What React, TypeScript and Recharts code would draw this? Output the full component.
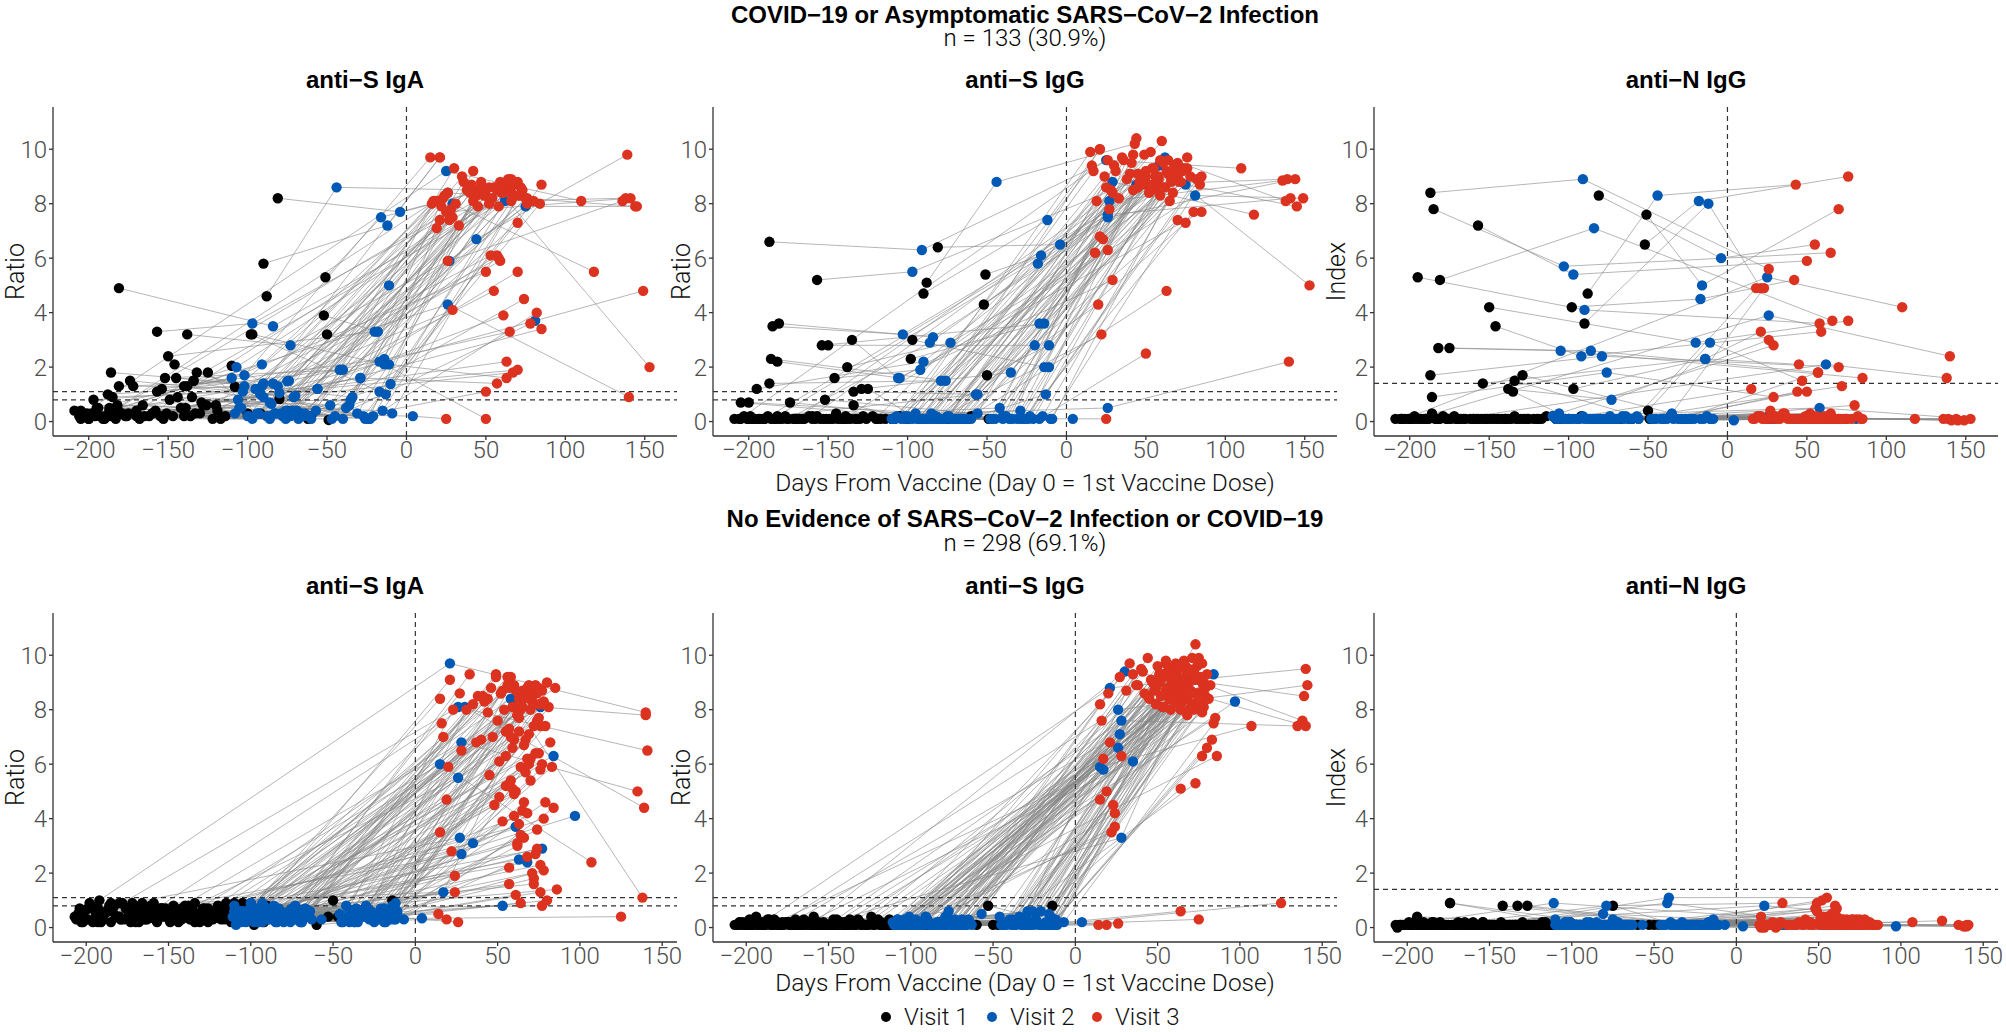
import React from "react";
import { ComposedChart, Line, Scatter, XAxis, YAxis, ReferenceLine } from "recharts";

type Trip = [number | null, number | null, number | null];

const visitLabels = ["Visit 1", "Visit 2", "Visit 3"];
const visitColors = ["#000000", "#005AB5", "#DC3220"];
const panelTitles = ["anti−S IgA", "anti−S IgG", "anti−N IgG"];
const yTitles = ["Ratio", "Ratio", "Index"];
const xTicks = [-200, -150, -100, -50, 0, 50, 100, 150];
const yTicks = [0, 2, 4, 6, 8, 10];
const cutoffs = [[0.8, 1.1], [0.8, 1.1], [1.4]];

// COVID-19 or asymptomatic infection group: days of visit 1..3 per subject
const topDays: Trip[] = [
  [-187, -91, 26], [-157, -97, 50], [-81, -4, 55], [-51, -16, 70], [-88, -44, 43],
  [-52, -18, 76], [-90, -12, 21], [-185, -103, 65], [-181, -84, 66], [-195, -90, 58],
  [-150, -20, 76], [-146, -92, 59], [-98, -17, 42], [-182, -105, 85], [-175, -86, 57],
  [-187, -79, 70], [-186, -76, 29], [-154, -14, 21], [-138, -73, 26], [-135, -106, 29],
  [-134, -57, 18], [-129, -35, 23], [-97, -14, 45], [-50, -11, 47], [-203, 25, 110],
  [-196, 26, 140], [-170, 62, 138], [-160, 58, 153], [-120, 29, 118], [-105, 75, 145],
  [-92, 44, 139], [-140, 81, 149], [-75, 27, 136], [-100, 4, 25], [-190, 26, 141],
  [-182, 26, 144], [-205, -102, 15], [-198, -91, 21], [-197, -95, 17], [-188, -84, 20],
  [-186, -81, 22], [-181, -74, 25], [-174, -71, 27], [-172, -56, 30], [-165, -48, 33],
  [-157, -42, 36], [-152, -40, 40], [-149, -36, 42], [-145, -34, 44], [-142, -29, 46],
  [-140, -24, 48], [-138, -110, 50], [-134, -107, 52], [-132, -102, 53], [-128, -99, 55],
  [-125, -94, 56], [-119, -90, 58], [-205, -87, 60], [-200, -85, 61], [-193, -83, 62],
  [-183, -80, 63], [-177, -77, 64], [-168, -75, 65], [-160, -72, 66], [-153, -70, 67],
  [-147, -68, 68], [-136, -66, 70], [-130, -62, 72], [-122, -60, 74], [-117, -65, 75],
  [-110, -47, 78], [-108, -27, 80], [-80, -23, 82], [-67, -10, 84], [-62, -13, 85],
  [-49, -17, 50], [-60, -11, 63], [-200, -56, 70], [-190, -40, 50], [-170, -29, 57],
  [-209, -108, 16], [-206, -104, 19], [-201, -100, 24], [-199, -97, 28], [-194, -93, 31],
  [-191, -88, 35], [-184, -86, 38], [-179, -82, 41], [-176, -78, 45], [-171, -76, 49],
  [-166, -73, 52], [-162, -69, 54], [-158, -64, 57], [-155, -45, 59], [-151, -38, 61],
  [-144, -31, 64], [-139, -26, 66], [-133, -21, 68], [-126, -15, 71], [-114, -9, 73],
];

const topIgA: Trip[] = [
  [0.4, 2.1, 8.4], [3.3, 3.6, 8.3], [8.2, 7.7, 8.6], [5.3, 7.5, 8.8], [4.6, 8.6, 8.5],
  [3.9, 3.3, 8.2], [5.8, 7.2, 9.7], [0.9, 1.1, 8.7], [4.9, 3.5, 8.4], [0.5, 0.9, 7.9],
  [2.4, 3.3, 8.0], [2.1, 1.0, 5.9], [3.2, 1.1, 8.1], [0.6, 0.5, 3.4], [0.3, 0.7, 6.1],
  [0.5, 0.3, 5.5], [0.2, 0.4, 7.5], [1.2, 2.3, 7.4], [3.2, 2.8, 5.9], [0.9, 0.8, 4.1],
  [1.5, 0.4, 8.1], [0.7, 0.8, 8.2], [3.2, 2.1, 8.5], [3.2, 5.0, 8.8], [0.3, 9.2, 8.1],
  [0.2, 4.3, 0.9], [0.4, 8.1, 8.2], [0.3, 8.5, 2.0], [0.6, 8.0, 5.5], [0.5, 7.9, 7.9],
  [0.3, 6.7, 9.8], [0.2, 3.7, 4.8], [0.4, 5.9, 8.1], [0.3, 0.2, 0.1], [0.2, 7.7, 8.2],
  [0.5, 8.4, 7.9], [0.4, 1.7, 9.7], [0.3, 1.3, 9.7], [0.8, 1.2, 8.1], [1.0, 1.4, 8.1],
  [1.8, 1.3, 7.9], [1.3, 1.5, 7.7], [1.5, 0.9, 7.4], [1.3, 1.2, 9.3], [0.2, 0.6, 7.2],
  [1.1, 1.9, 8.8], [1.6, 1.9, 8.4], [0.8, 0.6, 9.2], [1.6, 0.9, 8.3], [0.5, 1.6, 8.4],
  [1.3, 0.1, 8.6], [1.3, 1.6, 5.5], [1.5, 2.0, 8.0], [1.8, 1.3, 6.1], [0.6, 0.2, 4.8],
  [1.8, 0.3, 8.6], [0.4, 1.4, 6.0], [0.1, 0.2, 8.4], [0.1, 0.65, 3.9], [0.2, 0.3, 8.7],
  [0.1, 1.05, 2.2], [0.2, 0.2, 8.5], [0.1, 1.48, 3.3], [0.3, 0.4, 8.9], [0.1, 0.95, 1.8],
  [0.2, 0.1, 8.3], [0.2, 0.3, 7.3], [0.3, 0.2, 8.6], [0.1, 0.1, 4.5], [0.1, 0.2, 8.2],
  [2.05, 0.1, 3.6], [1.28, 0.2, 8.1], [0.83, 0.1, 4.0], [0.3, 1.38, 8.0], [0.1, 1.0, 8.7],
  [0.06, 2.2, 0.1], [0.2, 2.1, 1.6], [0.1, 1.2, 1.9], [0.1, 0.1, 1.1], [0.2, 1.6, 1.4],
  [0.4, 0.3, 8.0], [0.2, 0.5, 7.1], [0.3, 0.2, 8.3], [0.2, 0.1, 7.8], [0.5, 0.3, 8.0],
  [0.1, 0.2, 9.0], [0.4, 0.1, 8.5], [0.3, 0.3, 8.7], [0.2, 0.2, 7.9], [0.3, 0.1, 8.3],
  [0.6, 0.2, 8.6], [0.2, 0.4, 8.2], [0.4, 0.3, 8.5], [0.2, 0.2, 8.8], [0.3, 0.5, 8.4],
  [0.9, 0.3, 8.9], [0.5, 0.1, 8.1], [0.3, 0.2, 8.7], [0.6, 0.4, 8.3], [0.2, 0.3, 8.5],
];

const topIgG: Trip[] = [
  [6.6, 6.3, 9.6], [5.2, 5.5, 9.0], [6.4, 6.5, 9.3], [5.4, 6.1, 9.5], [5.1, 8.8, 10.2],
  [4.3, 5.8, 9.7], [4.7, 7.4, 10.0], [3.5, 3.2, 9.1], [3.6, 3.1, 8.8], [1.2, 2.2, 9.0],
  [2.8, 2.8, 9.3], [1.6, 1.9, 8.3], [2.3, 3.6, 8.5], [2.2, 1.6, 7.7], [0.1, 2.9, 8.8],
  [1.4, 1.5, 9.0], [2.3, 1.5, 8.4], [2.8, 3.6, 6.8], [2.0, 2.9, 6.3], [3.0, 1.6, 5.2],
  [1.1, 1.0, 6.2], [1.2, 1.8, 6.7], [3.0, 2.0, 8.6], [1.7, 2.8, 8.9], [0.2, 9.6, 9.3],
  [0.1, 0.5, 2.2], [0.1, 9.7, 8.1], [0.2, 9.4, 5.0], [0.1, 8.8, 7.6], [0.2, 8.7, 7.9],
  [0.1, 8.7, 8.9], [0.1, 8.3, 8.2], [0.1, 8.1, 8.85], [0.1, 0.1, 0.1], [0.1, 7.6, 8.2],
  [0.2, 7.5, 8.9], [0.7, 0.2, 9.9], [0.1, 0.1, 10.0], [0.1, 0.3, 9.2], [0.2, 0.1, 4.3],
  [0.1, 0.1, 3.2], [0.1, 0.2, 8.6], [0.7, 0.1, 7.8], [0.1, 0.3, 9.4], [0.1, 0.1, 8.2],
  [0.2, 0.5, 9.6], [0.8, 0.2, 9.1], [0.1, 0.1, 9.8], [0.3, 0.1, 10.4], [0.1, 0.4, 8.8],
  [0.1, 0.1, 9.0], [0.1, 0.1, 9.2], [0.6, 0.2, 8.4], [0.1, 0.1, 9.9], [0.2, 0.1, 8.7],
  [1.2, 0.1, 9.0], [0.1, 0.1, 8.9], [0.1, 0.1, 10.3], [0.7, 0.3, 9.5], [0.1, 0.1, 8.6],
  [0.1, 0.1, 9.2], [0.2, 0.1, 9.6], [0.1, 0.2, 8.1], [0.1, 0.1, 9.0], [0.1, 0.1, 8.4],
  [0.1, 0.1, 9.4], [0.1, 0.1, 9.1], [0.1, 0.1, 8.8], [0.2, 0.1, 9.3], [0.1, 0.1, 7.3],
  [0.1, 0.1, 9.0], [0.1, 0.1, 7.7], [0.1, 0.2, 8.9], [0.1, 0.1, 8.7], [0.1, 1.0, 9.0],
  [0.1, 0.1, 2.5], [0.2, 2.0, 4.8], [0.1, 1.0, 7.4], [0.1, 0.1, 8.7], [0.1, 0.1, 8.5],
  [0.1, 0.1, 9.4], [0.1, 0.1, 8.1], [0.1, 0.2, 9.0], [0.2, 0.1, 8.5], [0.1, 0.1, 9.2],
  [0.1, 0.1, 9.7], [0.1, 0.1, 8.9], [0.1, 0.2, 9.5], [0.1, 0.1, 9.1], [0.1, 0.1, 9.8],
  [0.1, 0.1, 8.7], [0.2, 0.1, 9.3], [0.1, 0.1, 9.0], [0.1, 0.1, 9.6], [0.1, 0.2, 8.6],
  [0.1, 0.1, 9.1], [0.2, 0.1, 8.9], [0.1, 0.1, 9.4], [0.1, 0.2, 8.8], [0.1, 0.1, 9.2],
];

const topN: Trip[] = [
  [8.4, 8.9, 5.6], [7.2, 5.4, 5.9], [8.3, 6.0, 6.5], [7.6, 5.0, 7.8], [4.7, 8.3, 8.7],
  [6.5, 8.1, 9.0], [3.6, 8.0, 4.9], [7.8, 5.7, 6.2], [5.2, 7.1, 3.7], [5.3, 4.1, 3.6],
  [4.2, 2.9, 3.7], [3.5, 2.4, 3.3], [4.2, 4.5, 5.2], [2.7, 2.6, 1.6], [2.7, 2.6, 1.8],
  [1.7, 2.4, 2.0], [0.9, 1.8, 0.9], [1.4, 2.3, 3.3], [1.2, 0.8, 3.0], [1.1, 0.3, 2.8],
  [1.5, 0.2, 4.9], [1.7, 0.3, 4.9], [1.2, 2.3, 2.1], [0.4, 2.9, 1.5], [0.1, 5.3, 4.2],
  [0.1, 3.9, 2.4], [0.1, 2.1, 1.6], [0.1, 0.5, 0.1], [0.1, 0.1, 0.1], [0.1, 0.1, 0.05],
  [0.2, 0.1, 0.1], [0.1, 0.1, 0.05], [0.1, 0.1, 0.1], [0.1, 0.05, 0.1], [0.1, 0.2, 0.05],
  [0.1, 0.1, 0.1], [0.1, 0.1, 1.2], [0.1, 0.2, 0.2], [0.2, 0.1, 0.1], [0.1, 0.1, 0.2],
  [0.3, 0.1, 0.1], [0.1, 0.2, 0.1], [0.1, 0.1, 0.4], [0.2, 0.1, 0.2], [0.1, 0.1, 0.1],
  [0.1, 0.1, 0.3], [0.1, 0.1, 0.1], [0.1, 0.2, 0.1], [0.1, 0.1, 1.1], [0.1, 0.1, 0.1],
  [0.1, 0.1, 0.1], [0.1, 0.2, 0.1], [0.2, 0.1, 0.3], [0.1, 0.1, 0.1], [0.1, 0.1, 0.1],
  [0.1, 0.1, 0.2], [0.1, 0.1, 0.1], [0.1, 0.1, 0.1], [0.1, 0.1, 0.2], [0.1, 0.1, 0.1],
  [0.1, 0.1, 0.1], [0.1, 0.1, 0.1], [0.1, 0.1, 0.3], [0.1, 0.1, 0.1], [0.1, 0.1, 0.1],
  [0.1, 0.1, 0.1], [0.1, 0.2, 0.1], [0.1, 0.1, 1.3], [0.1, 0.1, 0.1], [0.1, 0.1, 0.1],
  [0.2, 0.1, 0.1], [0.1, 0.1, 0.6], [0.1, 0.1, 0.2], [0.1, 0.1, 0.1], [0.1, 0.2, 0.1],
  [0.1, 0.1, 0.1], [0.1, 0.1, 0.1], [0.1, 0.1, 0.1], [0.1, 0.1, 1.1], [0.1, 0.1, 1.8],
  [0.1, 0.1, 0.1], [0.1, 0.1, 0.2], [0.1, 0.1, 0.1], [0.1, 0.1, 0.1], [0.1, 0.1, 0.1],
  [0.1, 0.1, 0.3], [0.1, 0.1, 0.1], [0.2, 0.1, 0.1], [0.1, 0.1, 0.1], [0.1, 0.1, 0.2],
  [0.1, 0.1, 0.1], [0.1, 0.1, 0.1], [0.1, 0.2, 0.1], [0.1, 0.1, 0.1], [0.1, 0.1, 0.1],
  [0.1, 0.1, 0.2], [0.1, 0.1, 0.1], [0.1, 0.1, 0.1], [0.1, 0.1, 0.1], [0.2, 0.1, 0.1],
];

// No evidence of infection group
const bottomDays: Trip[] = [
  [-192, 21, 140], [-178, 26, 141], [-160, 30, 139], [-150, 28, 135], [-140, 15, 107],
  [-200, 4, 125], [-130, 58, 138], [-120, 76, 140], [-105, 84, null], [-95, 97, null],
  [-185, 17, 60], [-172, 27, 63], [-165, 35, 70], [-155, 28, 65], [-148, 26, 72],
  [-135, 61, null], [-128, 63, null], [-116, 68, null], [-112, 53, null], [-100, 77, null],
  [-206, -108, 15], [-203, -105, 16], [-201, -103, 17], [-198, -100, 19], [-196, -97, 20],
  [-194, -95, 15], [-193, -93, 21], [-190, -91, 22], [-189, -89, 24], [-186, -88, 24],
  [-185, -86, 14], [-184, -84, 19], [-181, -83, 26], [-180, -81, 27], [-177, -79, 28],
  [-176, -78, 33], [-174, -76, 35], [-173, -75, 38], [-170, -73, 40], [-169, -72, 42],
  [-167, -71, 44], [-164, -70, 45], [-163, -69, 46], [-160, -67, 48], [-159, -66, 49],
  [-157, -64, 50], [-154, -63, 51], [-153, -46, 52], [-151, -44, 53], [-148, -42, 54],
  [-147, -41, 55], [-145, -39, 56], [-144, -38, 57], [-142, -36, 57], [-141, -35, 58],
  [-138, -33, 59], [-137, -31, 60], [-134, -30, 60], [-133, -28, 61], [-131, -27, 62],
  [-128, -25, 62], [-127, -24, 63], [-124, -22, 64], [-123, -21, 64], [-120, -20, 65],
  [-119, -18, 66], [-116, -17, 67], [-115, -16, 68], [-113, -15, 68], [-110, -14, 69],
  [-109, -13, 70], [-106, -12, 71], [-105, -11, 72], [-103, -40, 73], [-101, -32, 73],
  [-98, -26, 74], [-97, -19, 75], [-92, -23, 76], [-90, -15, 77], [-75, -37, 78],
  [-60, -21, 79], [-53, -13, 80], [-50, -17, 81], [-47, -12, 83], [-14, -7, 84],
  [-205, -110, 85], [-202, -111, 86], [-196, -109, 82], [-190, -106, 80], [-183, -104, 78],
  [-179, -101, 76], [-174, -98, 74], [-170, -96, 71], [-166, -94, 69], [-162, -92, 67],
  [-158, -90, 66], [-154, -87, 63], [-150, -85, 61], [-145, -82, 59], [-142, -80, 57],
  [-138, -77, 55], [-134, -74, 53], [-130, -72, 51], [-126, -70, 49], [-122, -68, 47],
  [-118, -100, 44], [-114, -78, 41], [-110, -57, 37], [-108, -29, 31], [-106, -45, 23],
  [-207, -109, 52], [-204, -107, 55], [-199, -106, 58], [-197, -104, 60], [-194, -102, 62],
  [-191, -99, 64], [-188, -97, 66], [-185, -95, 68], [-182, -93, 70], [-179, -91, 72],
  [-175, -89, 74], [-172, -86, 75], [-168, -84, 76], [-165, -82, 77], [-161, -80, 78],
  [-158, -77, 56], [-156, -75, 58], [-152, -73, 60], [-149, -71, 61], [-146, -69, 63],
  [-143, -67, 65], [-140, -65, 67], [-136, -43, 69], [-132, -40, 71], [-129, -37, 72],
  [-126, -34, 74], [-121, -30, 75], [-118, -27, 76], [-115, -24, 77], [-112, -21, 79],
  [-204, -19, 57], [-199, -16, 59], [-193, -13, 62], [-187, -11, 64], [-180, -110, 66],
  [-171, -108, 68], [-163, -106, 70], [-155, -103, 73], [-147, -101, 75], [-139, -98, 77],
];

const bottomIgA: Trip[] = [
  [1.0, 9.7, 7.9], [0.9, 8.1, 6.5], [0.6, 8.1, 4.4], [0.5, 6.8, 5.0], [0.4, 6.0, 2.4],
  [0.3, 0.34, 0.4], [0.4, 8.4, 1.1], [0.7, 8.1, 7.8], [0.6, 6.3, null], [0.5, 4.1, null],
  [0.8, 1.3, 6.9], [0.9, 3.3, 7.2], [0.3, 3.1, 6.2], [0.7, 2.7, 4.3], [0.4, 5.5, 8.7],
  [0.6, 3.7, null], [0.3, 2.5, null], [0.5, 2.4, null], [0.2, 0.8, null], [0.9, 2.9, null],
  [0.3, 0.2, 8.4], [0.2, 0.5, 7.5], [0.6, 0.3, 7.0], [0.9, 0.8, 4.7], [0.2, 0.6, 5.9],
  [0.4, 0.2, 3.5], [0.7, 0.9, 9.1], [0.3, 0.5, 2.8], [0.5, 0.3, 1.9], [0.8, 0.6, 1.3],
  [0.2, 0.4, 0.5], [0.6, 0.2, 0.3], [0.4, 0.7, 0.2], [0.9, 0.3, 8.6], [0.3, 0.5, 6.5],
  [0.7, 0.4, 9.3], [0.5, 0.2, 8.2], [0.2, 0.6, 8.5], [0.6, 0.8, 6.9], [0.4, 0.4, 8.3],
  [0.8, 0.3, 7.9], [0.3, 0.5, 5.6], [0.6, 0.2, 8.8], [0.5, 0.7, 4.5], [0.9, 0.4, 9.3],
  [0.2, 0.6, 7.6], [0.7, 0.3, 6.1], [0.4, 0.5, 8.6], [0.6, 0.2, 3.9], [0.3, 0.8, 8.0],
  [0.8, 0.4, 5.2], [0.5, 0.6, 8.9], [0.2, 0.3, 2.2], [0.7, 0.7, 7.3], [0.4, 0.2, 9.2],
  [0.6, 0.5, 6.6], [0.3, 0.4, 4.1], [0.9, 0.8, 8.1], [0.5, 0.3, 1.2], [0.2, 0.6, 7.8],
  [0.7, 0.2, 3.0], [0.4, 0.5, 8.4], [0.6, 0.4, 0.9], [0.3, 0.7, 5.9], [0.8, 0.3, 8.7],
  [0.5, 0.2, 4.6], [0.3, 0.6, 6.9], [0.6, 0.5, 8.8], [0.4, 0.3, 2.6], [0.7, 0.8, 7.1],
  [0.2, 0.4, 5.4], [0.5, 0.3, 8.5], [0.9, 0.6, 1.8], [0.3, 0.2, 6.4], [0.6, 0.5, 8.9],
  [0.1, 0.4, 3.6], [0.4, 0.7, 8.2], [0.2, 0.3, 5.8], [0.8, 0.5, 8.7], [0.5, 0.2, 2.1],
  [0.1, 0.3, 7.4], [0.4, 0.4, 1.0], [1.0, 0.3, 8.1], [0.4, 0.9, 5.9], [1.0, 0.3, 4.4],
  [0.5, 0.6, 8.8], [0.2, 0.4, 1.4], [0.7, 0.1, 6.8], [0.4, 0.6, 9.0], [0.8, 0.3, 4.0],
  [0.3, 0.5, 7.4], [0.6, 0.2, 2.9], [0.2, 0.7, 8.3], [0.9, 0.4, 6.0], [0.5, 0.8, 8.6],
  [0.3, 0.3, 3.3], [0.7, 0.5, 7.7], [0.4, 0.2, 5.0], [0.6, 0.6, 8.1], [0.3, 0.4, 1.6],
  [0.8, 0.6, 6.3], [0.2, 0.3, 8.7], [0.5, 0.7, 4.8], [0.7, 0.2, 9.2], [0.4, 0.5, 7.0],
  [0.3, 0.9, 8.4], [0.6, 0.4, 8.5], [0.9, 0.3, 6.8], [0.2, 0.6, 8.0], [0.5, 0.2, 8.0],
  [0.4, 0.3, 8.6], [0.7, 0.5, 7.2], [0.3, 0.2, 5.4], [0.8, 0.6, 8.9], [0.5, 0.4, 3.1],
  [0.2, 0.7, 8.0], [0.6, 0.3, 6.7], [0.9, 0.5, 4.2], [0.4, 0.2, 8.5], [0.3, 0.6, 1.6],
  [0.7, 0.4, 7.6], [0.5, 0.8, 8.8], [0.2, 0.3, 2.3], [0.6, 0.5, 6.0], [0.8, 0.2, 8.3],
  [0.3, 0.4, 9.2], [0.5, 0.7, 7.0], [0.7, 0.3, 4.9], [0.2, 0.5, 8.7], [0.6, 0.2, 3.8],
  [0.4, 0.6, 8.1], [0.8, 0.4, 5.7], [0.3, 0.3, 8.9], [0.5, 0.6, 2.0], [0.7, 0.2, 7.4],
  [0.2, 0.5, 8.6], [0.6, 0.7, 6.4], [0.4, 0.3, 1.3], [0.9, 0.5, 8.2], [0.3, 0.4, 4.6],
  [0.5, 0.2, 8.8], [0.7, 0.6, 5.1], [0.2, 0.3, 7.8], [0.6, 0.5, 3.4], [0.4, 0.8, 8.4],
  [0.8, 0.3, 6.2], [0.3, 0.6, 8.0], [0.5, 0.2, 2.7], [0.7, 0.4, 7.7], [0.4, 0.7, 0.8],
];

const bottomIgG: Trip[] = [
  [0.1, 8.8, 9.5], [0.2, 8.0, 8.9], [0.1, 9.4, 8.5], [0.1, 7.6, 7.4], [0.2, 5.9, 7.4],
  [0.1, 0.2, 0.9], [0.1, 9.4, 7.6], [0.3, 8.5, 7.4], [0.1, 9.3, null], [0.2, 8.3, null],
  [0.1, 5.8, 8.6], [0.2, 7.1, 9.0], [0.1, 6.1, 8.7], [0.1, 3.3, 8.3], [0.1, 6.6, 9.1],
  [0.2, 8.3, null], [0.1, 8.3, null], [0.1, 8.9, null], [0.1, 8.1, null], [0.2, 8.5, null],
  [0.1, 0.3, 8.2], [0.1, 0.2, 7.6], [0.1, 0.1, 6.2], [0.3, 0.1, 5.0], [0.1, 0.3, 8.6],
  [0.4, 0.1, 4.7], [0.1, 0.1, 6.8], [0.2, 0.4, 3.5], [0.1, 0.2, 3.7], [0.3, 0.1, 4.2],
  [0.1, 0.1, 0.1], [0.1, 0.1, 0.1], [0.2, 0.2, 0.15], [0.1, 0.1, 9.2], [0.1, 0.4, 6.3],
  [0.2, 0.1, 9.7], [0.1, 0.2, 9.3], [0.1, 0.1, 8.9], [0.3, 0.3, 9.5], [0.1, 0.1, 8.6],
  [0.1, 0.2, 9.9], [0.2, 0.1, 8.4], [0.1, 0.3, 9.1], [0.1, 0.1, 8.7], [0.4, 0.1, 8.2],
  [0.1, 0.2, 9.6], [0.1, 0.1, 9.0], [0.2, 0.4, 8.5], [0.1, 0.1, 9.3], [0.1, 0.1, 8.1],
  [0.3, 0.2, 9.8], [0.1, 0.1, 8.8], [0.1, 0.3, 8.4], [0.2, 0.1, 9.4], [0.1, 0.2, 8.0],
  [0.1, 0.1, 9.1], [0.3, 0.1, 8.7], [0.1, 0.4, 9.5], [0.1, 0.1, 8.3], [0.2, 0.2, 8.9],
  [0.1, 0.1, 9.2], [0.1, 0.3, 8.6], [0.4, 0.1, 0.6], [0.1, 0.6, 5.1], [0.2, 0.1, 9.0],
  [0.1, 0.2, 8.8], [0.1, 0.1, 9.6], [0.1, 0.1, 7.8], [0.3, 0.4, 8.4], [0.1, 0.2, 9.1],
  [0.1, 0.1, 8.7], [0.2, 0.1, 8.2], [0.1, 0.1, 9.4], [0.1, 0.3, 5.3], [0.1, 0.1, 10.4],
  [0.1, 0.6, 8.6], [0.1, 0.1, 0.3], [0.1, 0.2, 8.0], [0.1, 0.1, 6.3], [0.2, 0.1, 9.0],
  [0.1, 0.1, 8.5], [0.8, 0.2, 6.6], [0.1, 0.1, 8.4], [0.1, 0.3, 6.9], [0.8, 0.2, 7.5],
  [0.1, 0.1, 7.7], [0.2, 0.2, 6.3], [0.1, 0.1, 8.9], [0.1, 0.2, 9.3], [0.3, 0.1, 8.1],
  [0.1, 0.4, 9.1], [0.2, 0.1, 8.6], [0.1, 0.1, 9.9], [0.1, 0.2, 8.0], [0.2, 0.1, 9.2],
  [0.1, 0.3, 8.8], [0.1, 0.1, 9.5], [0.1, 0.1, 8.3], [0.3, 0.2, 9.0], [0.1, 0.1, 8.7],
  [0.1, 0.6, 9.7], [0.2, 0.1, 8.1], [0.1, 0.2, 9.3], [0.1, 0.1, 8.8], [0.1, 0.1, 9.0],
  [0.2, 0.3, 8.5], [0.1, 0.1, 9.4], [0.1, 0.5, 8.9], [0.1, 0.6, 8.7], [0.1, 0.1, 4.5],
  [0.1, 0.1, 9.1], [0.2, 0.2, 8.7], [0.1, 0.1, 9.5], [0.1, 0.3, 8.3], [0.3, 0.1, 9.0],
  [0.1, 0.1, 8.6], [0.1, 0.2, 9.8], [0.2, 0.1, 8.9], [0.1, 0.1, 9.3], [0.1, 0.4, 8.0],
  [0.2, 0.1, 9.6], [0.1, 0.1, 8.4], [0.1, 0.2, 9.2], [0.3, 0.1, 7.9], [0.1, 0.1, 8.8],
  [0.1, 0.3, 9.4], [0.2, 0.1, 8.5], [0.1, 0.1, 9.1], [0.1, 0.2, 9.7], [0.1, 0.1, 8.2],
  [0.2, 0.1, 9.0], [0.1, 0.3, 8.7], [0.1, 0.1, 9.5], [0.3, 0.2, 8.1], [0.1, 0.1, 9.3],
  [0.1, 0.4, 8.6], [0.2, 0.1, 9.9], [0.1, 0.1, 8.3], [0.1, 0.2, 9.0], [0.1, 0.1, 8.8],
  [0.2, 0.1, 9.2], [0.1, 0.5, 8.5], [0.1, 0.1, 9.6], [0.3, 0.2, 8.0], [0.1, 0.1, 8.9],
  [0.1, 0.3, 9.4], [0.2, 0.1, 8.6], [0.1, 0.1, 9.1], [0.1, 0.2, 8.4], [0.1, 0.1, 9.7],
];

const bottomN: Trip[] = [
  [0.1, 0.1, 0.05], [0.1, 0.1, 0.1], [0.2, 0.1, 0.05], [0.1, 0.1, 0.1], [0.1, 0.1, 0.2],
  [0.1, 0.05, 0.25], [0.1, 0.1, 0.05], [0.1, 0.1, 0.1], [0.1, 0.1, null], [0.1, 0.05, null],
  [0.1, 0.8, 0.6], [0.1, 0.1, 0.2], [0.1, 0.1, 0.1], [0.1, 0.1, 0.3], [0.1, 0.1, 0.1],
  [0.1, 0.1, null], [0.1, 0.1, null], [0.1, 0.1, null], [0.1, 0.1, null], [0.1, 0.2, null],
  [0.0, 0.1, 0.4], [0.1, 0.1, 0.1], [0.1, 0.2, 0.0], [0.1, 0.1, 0.1], [0.2, 0.1, 0.1],
  [0.4, 0.1, 0.0], [0.1, 0.1, 0.1], [0.1, 0.1, 0.2], [0.1, 0.2, 0.1], [0.1, 0.1, 0.0],
  [0.1, 0.1, 0.1], [0.2, 0.1, 0.1], [0.1, 0.1, 0.1], [0.1, 0.5, 0.2], [0.1, 0.8, 0.9],
  [0.1, 0.1, 0.1], [0.9, 0.1, 0.1], [0.1, 0.1, 0.2], [0.1, 0.1, 0.1], [0.2, 0.2, 0.3],
  [0.1, 0.1, 0.1], [0.1, 0.1, 0.2], [0.1, 0.1, 0.1], [0.1, 0.1, 0.7], [0.1, 0.1, 0.9],
  [0.1, 0.1, 0.1], [0.2, 0.1, 0.3], [0.1, 0.1, 1.0], [0.1, 0.1, 0.4], [0.1, 0.9, 0.1],
  [0.1, 1.1, 1.1], [0.1, 0.1, 0.2], [0.1, 0.1, 0.1], [0.8, 0.1, 0.3], [0.1, 0.1, 0.5],
  [0.1, 0.2, 0.1], [0.1, 0.1, 0.8], [0.1, 0.1, 0.2], [0.8, 0.1, 0.7], [0.1, 0.1, 0.1],
  [0.1, 0.1, 0.3], [0.8, 0.1, 0.1], [0.1, 0.1, 0.2], [0.1, 0.1, 0.1], [0.1, 0.1, 0.2],
  [0.1, 0.1, 0.1], [0.2, 0.2, 0.3], [0.1, 0.1, 0.1], [0.1, 0.1, 0.2], [0.1, 0.3, 0.1],
  [0.1, 0.1, 0.1], [0.1, 0.1, 0.2], [0.1, 0.1, 0.1], [0.1, 0.1, 0.3], [0.2, 0.1, 0.1],
  [0.1, 0.1, 0.2], [0.1, 0.1, 0.3], [0.1, 0.1, 0.1], [0.1, 0.1, 0.2], [0.8, 0.1, 0.1],
  [0.1, 0.1, 0.1], [0.1, 0.1, 0.1], [0.1, 0.1, 0.2], [0.1, 0.1, 0.1], [0.1, 0.1, 0.1],
  [0.1, 0.3, 0.1], [0.1, 0.9, 0.1], [0.1, 0.1, 0.1], [0.2, 0.1, 0.2], [0.1, 0.1, 0.3],
  [0.1, 0.1, 0.1], [0.9, 0.1, 0.2], [0.1, 0.1, 0.1], [0.1, 0.1, 0.1], [0.1, 0.1, 0.2],
  [0.1, 0.1, 0.1], [0.2, 0.1, 0.3], [0.1, 0.2, 0.1], [0.1, 0.1, 0.2], [0.1, 0.1, 0.1],
  [0.1, 0.1, 0.4], [0.1, 0.2, 0.2], [0.2, 0.1, 0.1], [0.1, 0.1, 0.6], [0.1, 0.1, 0.1],
  [0.1, 0.1, 0.2], [0.1, 0.1, 0.1], [0.1, 0.1, 0.1], [0.1, 0.1, 0.1], [0.1, 0.1, 0.1],
  [0.1, 0.1, 0.2], [0.1, 0.1, 0.1], [0.2, 0.1, 0.3], [0.1, 0.2, 0.1], [0.1, 0.1, 0.1],
  [0.1, 0.1, 0.2], [0.1, 0.1, 0.1], [0.2, 0.1, 0.1], [0.1, 0.1, 0.3], [0.1, 0.2, 0.1],
  [0.1, 0.1, 0.1], [0.1, 0.1, 0.2], [0.1, 0.1, 0.1], [0.2, 0.1, 0.1], [0.1, 0.1, 0.2],
  [0.1, 0.1, 0.1], [0.1, 0.3, 0.2], [0.1, 0.1, 0.1], [0.1, 0.1, 0.4], [0.1, 0.1, 0.1],
  [0.2, 0.1, 0.2], [0.1, 0.1, 0.1], [0.1, 0.1, 0.1], [0.1, 0.2, 0.3], [0.1, 0.1, 0.1],
  [0.1, 0.1, 0.2], [0.1, 0.1, 0.1], [0.2, 0.1, 0.1], [0.1, 0.1, 0.2], [0.1, 0.1, 0.1],
  [0.1, 0.1, 0.1], [0.1, 0.2, 0.2], [0.1, 0.1, 0.1], [0.1, 0.1, 0.3], [0.2, 0.1, 0.1],
  [0.1, 0.1, 0.1], [0.1, 0.1, 0.2], [0.1, 0.1, 0.1], [0.1, 0.2, 0.1], [0.1, 0.1, 0.2],
];

const FONT = "Roboto, 'Liberation Sans', Arial, sans-serif";
const BOLD = "'Liberation Sans', Arial, Helvetica, sans-serif";

const PLOT_W = 624;
const PLOT_H = 329;
const Y_AXIS_W = 50;
const colLefts = [53, 713, 1374];
const rowTops = [107, 613];
const yTitleX = [15, 681, 1336];
const topXDomain: [number, number] = [-222.5, 170.3];
const bottomXDomain: [number, number] = [-220.2, 159];
const yDomain: [number, number] = [-0.53, 11.55];

type Pt = { x: number; y: number; visit: number };

function buildSubjects(days: Trip[], vals: Trip[]): Pt[][] {
  return days.map((d, i) =>
    d.flatMap((x, k) => {
      const y = vals[i][k];
      return x === null || y === null ? [] : [{ x, y, visit: k }];
    })
  );
}

const fmtTick = (v: number) => (v < 0 ? `−${-v}` : `${v}`);

const dotShape = (color: string, r = 5.2) => (props: any) =>
  <circle cx={props.cx} cy={props.cy} r={r} fill={color} />;

function Panel({ days, vals, col, row, xDomain }: {
  days: Trip[]; vals: Trip[]; col: number; row: number; xDomain: [number, number];
}) {
  const subjects = buildSubjects(days, vals);
  const all = subjects.flat();
  const byVisit = [0, 1, 2].map((k) => all.filter((p) => p.visit === k));
  const tickStyle = { fill: "#4d4d4d", fontSize: 24, fontFamily: FONT, fontWeight: 300 };

  return (
    <div style={{ position: "absolute", left: colLefts[col] - Y_AXIS_W, top: rowTops[row] - 10 }}>
      <ComposedChart
        width={Y_AXIS_W + PLOT_W + 8}
        height={10 + PLOT_H + 50}
        margin={{ top: 10, right: 8, bottom: 0, left: 0 }}
      >
        <XAxis
          type="number"
          dataKey="x"
          domain={xDomain}
          allowDataOverflow
          ticks={xTicks}
          interval={0}
          tickFormatter={fmtTick}
          height={50}
          tickSize={4}
          tickMargin={1}
          tick={tickStyle}
          axisLine={{ stroke: "#333", strokeWidth: 1.3 }}
          tickLine={{ stroke: "#333", strokeWidth: 1.3 }}
        />
        <YAxis
          type="number"
          dataKey="y"
          domain={yDomain}
          allowDataOverflow
          ticks={yTicks}
          interval={0}
          width={Y_AXIS_W}
          tickSize={4}
          tickMargin={2}
          tick={tickStyle}
          axisLine={{ stroke: "#333", strokeWidth: 1.3 }}
          tickLine={{ stroke: "#333", strokeWidth: 1.3 }}
        />
        {subjects.map((s, i) => (
          <Line
            key={`l${i}`}
            data={s}
            dataKey="y"
            stroke="#858585"
            strokeOpacity={0.6}
            strokeWidth={1}
            dot={false}
            activeDot={false}
            isAnimationActive={false}
          />
        ))}
        {cutoffs[col].map((c) => (
          <ReferenceLine key={`h${c}`} y={c} stroke="#333" strokeWidth={1.2} strokeDasharray="5 4" />
        ))}
        <ReferenceLine x={0} stroke="#333" strokeWidth={1.2} strokeDasharray="5 4" />
        {byVisit.map((pts, k) => (
          <Scatter
            key={`s${k}`}
            data={pts}
            dataKey="y"
            fill={visitColors[k]}
            shape={dotShape(visitColors[k])}
            isAnimationActive={false}
          />
        ))}
      </ComposedChart>
    </div>
  );
}

export default function App() {
  const rows = [
    { days: topDays, vals: [topIgA, topIgG, topN], xDomain: topXDomain },
    { days: bottomDays, vals: [bottomIgA, bottomIgG, bottomN], xDomain: bottomXDomain },
  ];
  const legendX = [886, 992, 1097];

  return (
    <div style={{ position: "absolute", left: 0, top: 0, width: 2006, height: 1032, background: "#fff", overflow: "hidden" }}>
      {rows.map((r, ri) =>
        r.vals.map((v, ci) => (
          <Panel key={`${ri}-${ci}`} days={r.days} vals={v} col={ci} row={ri} xDomain={r.xDomain} />
        ))
      )}
      <svg width={2006} height={1032} style={{ position: "absolute", left: 0, top: 0, pointerEvents: "none" }}>
        <text x={1025} y={14} textAnchor="middle" dominantBaseline="central" fontFamily={BOLD} fontWeight={700} fontSize={24}>
          COVID−19 or Asymptomatic SARS−CoV−2 Infection
        </text>
        <text x={1025} y={38} textAnchor="middle" dominantBaseline="central" fontFamily={FONT} fontWeight={300} fontSize={24}>
          n = 133 (30.9%)
        </text>
        <text x={1025} y={518} textAnchor="middle" dominantBaseline="central" fontFamily={BOLD} fontWeight={700} fontSize={24}>
          No Evidence of SARS−CoV−2 Infection or COVID−19
        </text>
        <text x={1025} y={543} textAnchor="middle" dominantBaseline="central" fontFamily={FONT} fontWeight={300} fontSize={24}>
          n = 298 (69.1%)
        </text>
        {rowTops.map((top, ri) =>
          colLefts.map((left, ci) => (
            <g key={`t${ri}-${ci}`}>
              <text x={left + PLOT_W / 2} y={top - 28} textAnchor="middle" dominantBaseline="central"
                fontFamily={BOLD} fontWeight={700} fontSize={24}>
                {panelTitles[ci]}
              </text>
              <text transform={`translate(${yTitleX[ci]},${top + PLOT_H / 2}) rotate(-90)`}
                textAnchor="middle" dominantBaseline="central" fontFamily={FONT} fontWeight={300} fontSize={25} fill="#111">
                {yTitles[ci]}
              </text>
            </g>
          ))
        )}
        {[482, 982].map((y) => (
          <text key={`x${y}`} x={1025} y={y} textAnchor="middle" dominantBaseline="central"
            fontFamily={FONT} fontWeight={300} fontSize={24.5} fill="#111">
            Days From Vaccine (Day 0 = 1st Vaccine Dose)
          </text>
        ))}
        {visitLabels.map((lab, k) => (
          <g key={lab}>
            <circle cx={legendX[k]} cy={1017} r={5} fill={visitColors[k]} />
            <text x={legendX[k] + 18} y={1017} dominantBaseline="central" fontFamily={FONT} fontWeight={300} fontSize={24} fill="#111">
              {lab}
            </text>
          </g>
        ))}
      </svg>
    </div>
  );
}
